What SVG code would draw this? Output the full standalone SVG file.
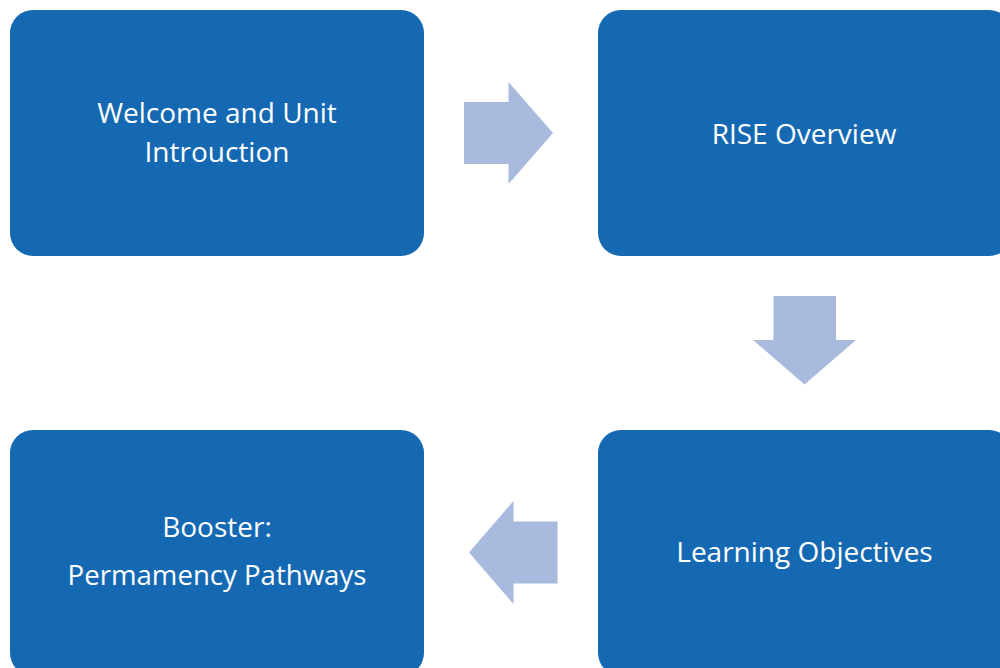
<svg xmlns="http://www.w3.org/2000/svg" width="1000" height="668" viewBox="0 0 1000 668">
<style>
.box{fill:#1569b3;}
.arr{fill:#a8badd;}
.lbl{fill:#ffffff;font-family:"Open Sans","Liberation Sans",sans-serif;font-size:28px;text-anchor:middle;}
</style>
<rect width="1000" height="668" fill="#ffffff"/>
<g id="connectors">
<polygon class="arr" points="464,102 508.5,102 508.5,82 553,133 508.5,184 508.5,164 464,164"/>
<polygon class="arr" points="773.5,296 836,296 836,340 856,340 804.5,384.5 753,340 773.5,340"/>
<polygon class="arr" points="557.5,521.5 513.5,521.5 513.5,501 469,552.5 513.5,604 513.5,583.5 557.5,583.5"/>
</g>
<g id="node1">
<rect class="box" x="10" y="10" width="414" height="246" rx="23" ry="23"/>
<text class="lbl" x="217" y="122.7">Welcome and Unit</text>
<text class="lbl" x="217" y="162">Introuction</text>
</g>
<g id="node2">
<rect class="box" x="598" y="10" width="414" height="246" rx="23" ry="23"/>
<text class="lbl" x="804" y="144">RISE Overview</text>
</g>
<g id="node3">
<rect class="box" x="598" y="430" width="414" height="246" rx="23" ry="23"/>
<text class="lbl" x="804.5" y="561.7">Learning Objectives</text>
</g>
<g id="node4">
<rect class="box" x="10" y="430" width="414" height="246" rx="23" ry="23"/>
<text class="lbl" x="217" y="536.5">Booster:</text>
<text class="lbl" x="217" y="585" style="font-size:27.6px">Permamency Pathways</text>
</g>
</svg>
